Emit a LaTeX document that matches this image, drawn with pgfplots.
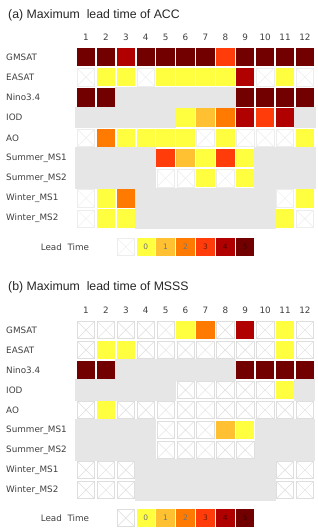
\documentclass[border=0pt]{standalone}
\usepackage{pgfplots}
\pgfplotsset{compat=1.18}
\usepackage{pgfplotstable}
\usepackage{fontspec}
\setmainfont{DejaVu Sans}
\newfontfamily\titlef{Liberation Sans}
\definecolor{c0}{HTML}{FFFF40}
\definecolor{c1}{HTML}{FFC132}
\definecolor{c2}{HTML}{FF7A00}
\definecolor{c3}{HTML}{FF3C0A}
\definecolor{c4}{HTML}{B00000}
\definecolor{c5}{HTML}{720000}
\definecolor{cg}{HTML}{E6E6E6}
\definecolor{lab}{HTML}{404040}
\colorlet{xline}{black!12}
\pgfdeclareplotmark{xbox}{%
  \pgfpathrectangle{\pgfpoint{-\pgfplotmarksize}{-\pgfplotmarksize}}{\pgfpoint{2\pgfplotmarksize}{2\pgfplotmarksize}}%
  \pgfusepathqfillstroke
  \pgfpathmoveto{\pgfpoint{-\pgfplotmarksize}{-\pgfplotmarksize}}%
  \pgfpathlineto{\pgfpoint{\pgfplotmarksize}{\pgfplotmarksize}}%
  \pgfpathmoveto{\pgfpoint{-\pgfplotmarksize}{\pgfplotmarksize}}%
  \pgfpathlineto{\pgfpoint{\pgfplotmarksize}{-\pgfplotmarksize}}%
  \pgfusepathqstroke
}
\pgfplotsset{
  only/.style={restrict expr to domain={\thisrow{c}}{#1:#1}},
  panel/.style={anchor=north west, x=19.9bp, y=#1, y dir=reverse,
    xmin=0.5, xmax=12.5, ymin=0.5, ymax=9.5, hide axis, clip=false}
}
% x y c : c = -2 not applicable (gray), -1 no skill (cross), 0..5 maximum lead time
\pgfplotstableread[row sep=\\]{
x y c\\
1 1 5\\ 2 1 5\\ 3 1 4\\ 4 1 5\\ 5 1 5\\ 6 1 5\\ 7 1 5\\ 8 1 3\\ 9 1 5\\ 10 1 5\\ 11 1 5\\ 12 1 5\\
1 2 -1\\ 2 2 0\\ 3 2 0\\ 4 2 -1\\ 5 2 0\\ 6 2 0\\ 7 2 0\\ 8 2 0\\ 9 2 4\\ 10 2 -1\\ 11 2 0\\ 12 2 -1\\
1 3 5\\ 2 3 5\\ 3 3 -2\\ 4 3 -2\\ 5 3 -2\\ 6 3 -2\\ 7 3 -2\\ 8 3 -2\\ 9 3 5\\ 10 3 5\\ 11 3 5\\ 12 3 5\\
1 4 -2\\ 2 4 -2\\ 3 4 -2\\ 4 4 -2\\ 5 4 -2\\ 6 4 0\\ 7 4 1\\ 8 4 2\\ 9 4 4\\ 10 4 3\\ 11 4 4\\ 12 4 -2\\
1 5 -1\\ 2 5 2\\ 3 5 0\\ 4 5 0\\ 5 5 0\\ 6 5 0\\ 7 5 -1\\ 8 5 0\\ 9 5 -1\\ 10 5 -1\\ 11 5 -1\\ 12 5 0\\
1 6 -2\\ 2 6 -2\\ 3 6 -2\\ 4 6 -2\\ 5 6 3\\ 6 6 1\\ 7 6 0\\ 8 6 3\\ 9 6 0\\ 10 6 -2\\ 11 6 -2\\ 12 6 -2\\
1 7 -2\\ 2 7 -2\\ 3 7 -2\\ 4 7 -2\\ 5 7 -1\\ 6 7 -1\\ 7 7 0\\ 8 7 -1\\ 9 7 0\\ 10 7 -2\\ 11 7 -2\\ 12 7 -2\\
1 8 -1\\ 2 8 0\\ 3 8 2\\ 4 8 -2\\ 5 8 -2\\ 6 8 -2\\ 7 8 -2\\ 8 8 -2\\ 9 8 -2\\ 10 8 -2\\ 11 8 -1\\ 12 8 0\\
1 9 -1\\ 2 9 0\\ 3 9 0\\ 4 9 -2\\ 5 9 -2\\ 6 9 -2\\ 7 9 -2\\ 8 9 -2\\ 9 9 -2\\ 10 9 -2\\ 11 9 0\\ 12 9 -1\\
3 10.4 -1\\ 4 10.4 0\\ 5 10.4 1\\ 6 10.4 2\\ 7 10.4 3\\ 8 10.4 4\\ 9 10.4 5\\
}\tabA
\pgfplotstableread[row sep=\\]{
x y c\\
1 1 -1\\ 2 1 -1\\ 3 1 -1\\ 4 1 -1\\ 5 1 -1\\ 6 1 0\\ 7 1 2\\ 8 1 -1\\ 9 1 4\\ 10 1 -1\\ 11 1 0\\ 12 1 -1\\
1 2 -1\\ 2 2 0\\ 3 2 0\\ 4 2 -1\\ 5 2 -1\\ 6 2 -1\\ 7 2 -1\\ 8 2 -1\\ 9 2 -1\\ 10 2 -1\\ 11 2 0\\ 12 2 -1\\
1 3 5\\ 2 3 5\\ 3 3 -2\\ 4 3 -2\\ 5 3 -2\\ 6 3 -2\\ 7 3 -2\\ 8 3 -2\\ 9 3 5\\ 10 3 5\\ 11 3 5\\ 12 3 5\\
1 4 -2\\ 2 4 -2\\ 3 4 -2\\ 4 4 -2\\ 5 4 -2\\ 6 4 -1\\ 7 4 -1\\ 8 4 -1\\ 9 4 -1\\ 10 4 -1\\ 11 4 0\\ 12 4 -2\\
1 5 -1\\ 2 5 0\\ 3 5 -1\\ 4 5 -1\\ 5 5 -1\\ 6 5 -1\\ 7 5 -1\\ 8 5 -1\\ 9 5 -1\\ 10 5 -1\\ 11 5 -1\\ 12 5 -1\\
1 6 -2\\ 2 6 -2\\ 3 6 -2\\ 4 6 -2\\ 5 6 -1\\ 6 6 -1\\ 7 6 -1\\ 8 6 1\\ 9 6 0\\ 10 6 -2\\ 11 6 -2\\ 12 6 -2\\
1 7 -2\\ 2 7 -2\\ 3 7 -2\\ 4 7 -2\\ 5 7 -1\\ 6 7 -1\\ 7 7 -1\\ 8 7 -1\\ 9 7 -1\\ 10 7 -2\\ 11 7 -2\\ 12 7 -2\\
1 8 -1\\ 2 8 -1\\ 3 8 -1\\ 4 8 -2\\ 5 8 -2\\ 6 8 -2\\ 7 8 -2\\ 8 8 -2\\ 9 8 -2\\ 10 8 -2\\ 11 8 -1\\ 12 8 -1\\
1 9 -1\\ 2 9 -1\\ 3 9 -1\\ 4 9 -2\\ 5 9 -2\\ 6 9 -2\\ 7 9 -2\\ 8 9 -2\\ 9 9 -2\\ 10 9 -2\\ 11 9 -1\\ 12 9 -1\\
3 10.4 -1\\ 4 10.4 0\\ 5 10.4 1\\ 6 10.4 2\\ 7 10.4 3\\ 8 10.4 4\\ 9 10.4 5\\
}\tabB
\newcommand\drawcells[2]{% #1 table, #2 gray mark size
  \addplot[only marks, mark=square*, draw=cg, fill=cg, mark size=#2, line width=0pt, only=-2] table[x=x,y=y]{#1};
  \addplot[only marks, mark=xbox, draw=xline, fill=white, mark size=8.7bp, line width=0.45bp, only=-1] table[x=x,y=y]{#1};
  \addplot[only marks, mark=square*, draw=c0, fill=c0, mark size=8.7bp, line width=0pt, only=0] table[x=x,y=y]{#1};
  \addplot[only marks, mark=square*, draw=c1, fill=c1, mark size=8.7bp, line width=0pt, only=1] table[x=x,y=y]{#1};
  \addplot[only marks, mark=square*, draw=c2, fill=c2, mark size=8.7bp, line width=0pt, only=2] table[x=x,y=y]{#1};
  \addplot[only marks, mark=square*, draw=c3, fill=c3, mark size=8.7bp, line width=0pt, only=3] table[x=x,y=y]{#1};
  \addplot[only marks, mark=square*, draw=c4, fill=c4, mark size=8.7bp, line width=0pt, only=4] table[x=x,y=y]{#1};
  \addplot[only marks, mark=square*, draw=c5, fill=c5, mark size=8.7bp, line width=0pt, only=5] table[x=x,y=y]{#1};
}
\newcommand\rowlabels[2]{%
  \node[anchor=west] at (axis cs:-3.07,1) {GMSAT};
  \node[anchor=west] at (axis cs:-3.07,2) {EASAT};
  \node[anchor=west] at (axis cs:-3.07,3) {Nino3.4};
  \node[anchor=west] at (axis cs:-3.07,4) {IOD};
  \node[anchor=west] at (axis cs:-3.07,5) {AO};
  \node[anchor=west] at (axis cs:-3.07,6) {Summer\_MS1};
  \node[anchor=west] at (axis cs:-3.07,7) {Summer\_MS2};
  \node[anchor=west] at (axis cs:-3.07,8) {Winter\_MS1};
  \node[anchor=west] at (axis cs:-3.07,9) {Winter\_MS2};
  \pgfplotsinvokeforeach{1,...,12}{\node at (axis cs:##1,0.02) {##1};}
  \node at (axis cs:-0.06,10.4) {Lead\ \ Time};
  \node[anchor=west, font=\titlef\fontsize{12.3bp}{14bp}\selectfont, text=black!85] at (axis cs:-2.97,#1) {#2};
}
\newcommand\legendnums{%
  \node[font=\fontsize{7.5bp}{9bp}\selectfont, text=black!55] at (axis cs:4,10.4) {0};
  \node[font=\fontsize{7.5bp}{9bp}\selectfont, text=black!55] at (axis cs:5,10.4) {1};
  \node[font=\fontsize{7.5bp}{9bp}\selectfont, text=black!55] at (axis cs:6,10.4) {2};
  \node[font=\fontsize{7.5bp}{9bp}\selectfont, text=black!55!c3] at (axis cs:7,10.4) {3};
  \node[font=\fontsize{7.5bp}{9bp}\selectfont, text=black!55!c4] at (axis cs:8,10.4) {4};
  \node[font=\fontsize{7.5bp}{9bp}\selectfont, text=black!45!c5] at (axis cs:9,10.4) {5};
}
\begin{document}
\begin{tikzpicture}[every node/.style={font=\fontsize{8.8bp}{10bp}\selectfont, text=lab, inner sep=1bp}]
\path[use as bounding box] (0,0) rectangle (318bp,530bp);
\begin{axis}[panel=20.2bp, at={(76.05bp,483.1bp)}, after end axis/.code={\legendnums}]
\colorlet{xline}{black!7}
\drawcells{\tabA}{10.15bp}
\rowlabels{-1.08}{(a) Maximum\ \ lead time of ACC}
\end{axis}
\begin{axis}[panel=20bp, at={(76.05bp,210bp)}, after end axis/.code={\legendnums}]
\colorlet{xline}{black!13}
\drawcells{\tabB}{10.05bp}
\rowlabels{-1.15}{(b) Maximum\ \ lead time of MSSS}
\end{axis}
\end{tikzpicture}
\end{document}
